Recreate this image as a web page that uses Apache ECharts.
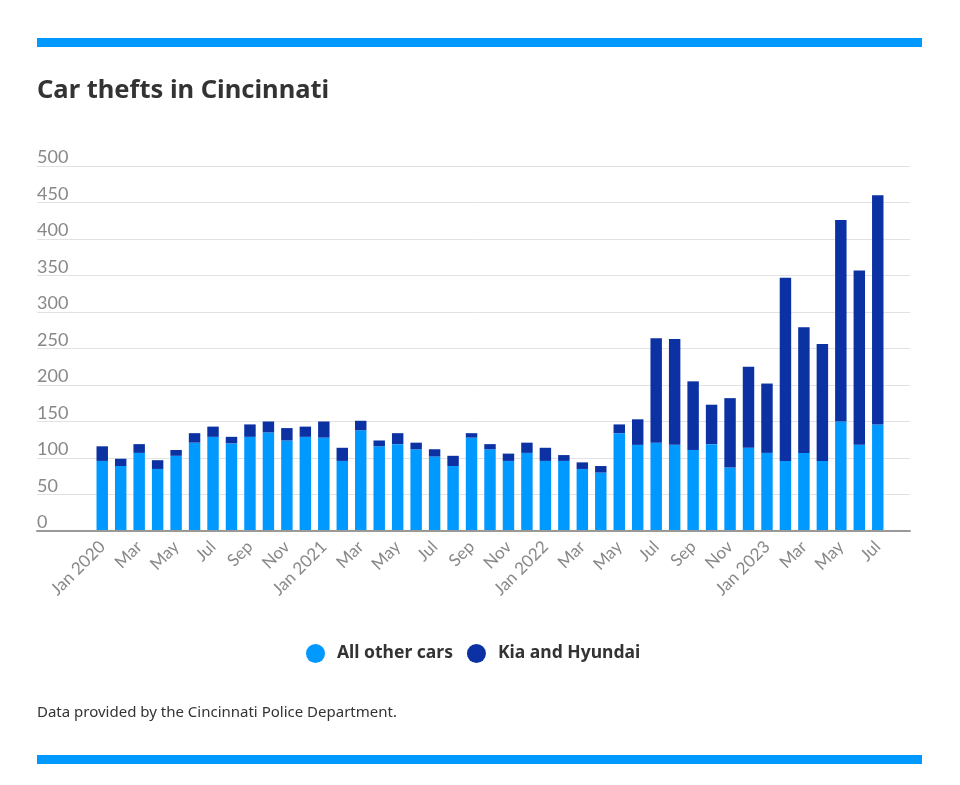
<!DOCTYPE html>
<html>
<head>
<meta charset="utf-8">
<script src="https://cdn.jsdelivr.net/npm/echarts@6/dist/echarts.min.js"></script>
<style>html,body{margin:0;padding:0;background:#fff}#c{width:960px;height:785px}</style>
</head>
<body>
<div id="c"></div>
<script>
const months = ['Jan 2020','Feb','Mar','Apr','May','Jun','Jul','Aug','Sep','Oct','Nov','Dec',
  'Jan 2021','Feb','Mar','Apr','May','Jun','Jul','Aug','Sep','Oct','Nov','Dec',
  'Jan 2022','Feb','Mar','Apr','May','Jun','Jul','Aug','Sep','Oct','Nov','Dec',
  'Jan 2023','Feb','Mar','Apr','May','Jun','Jul'];
const otherCars = [96,89,107,85,103,121,129,120,129,135,124,129,
  128,96,138,116,119,112,102,89,128,112,96,107,
  96,96,85,80,134,118,121,118,111,119,87,114,
  107,96,107,96,150,118,146];
const kiaHyundai = [20,10,12,12,8,13,14,9,17,15,17,14,
  22,18,13,8,15,9,10,14,6,7,10,14,
  18,8,9,9,12,35,143,145,94,54,95,111,
  95,251,172,160,276,239,314];
const yMin = 0, yMax = 500, yStep = 50;

const LIGHT = '#0099ff', DARK = '#0b31a3';
const chart = echarts.init(document.getElementById('c'));
chart.setOption({
  animation: false,
  title: [
    {text: 'Car thefts in Cincinnati', left: 37, top: 78, padding: 0,
     textStyle: {fontFamily: 'Noto Sans', fontWeight: 'bold', fontSize: 25.5, color: '#333'}},
    {text: 'Data provided by the Cincinnati Police Department.', left: 37, top: 705, padding: 0,
     textStyle: {fontFamily: 'Noto Sans', fontWeight: 'normal', fontSize: 15, color: '#333'}}
  ],
  legend: {
    data: ['All other cars', 'Kia and Hyundai'],
    left: 301, top: 639, icon: 'circle', itemWidth: 19, itemHeight: 19, itemGap: 14,
    textStyle: {fontFamily: 'Noto Sans', fontWeight: 'bold', fontSize: 17.5, color: '#333', padding: [0,0,0,7]}
  },
  grid: [
    {left: 37, right: 50, top: 166, bottom: 254},
    {left: 93, right: 73, top: 166, bottom: 254}
  ],
  xAxis: [
    {type: 'value', gridIndex: 0, min: 0, max: 1, axisLabel: {show: false}, axisTick: {show: false},
     splitLine: {show: false}, axisLine: {show: true, lineStyle: {color: '#999', width: 2}}, z: 5},
    {type: 'category', gridIndex: 1, data: months,
     axisLine: {show: false}, axisTick: {show: false},
     axisLabel: {interval: 1, rotate: 45, margin: 13, color: '#888', fontSize: 17, fontFamily: 'Lato'}}
  ],
  yAxis: [
    {type: 'value', gridIndex: 0, min: yMin, max: yMax, interval: yStep,
     axisLine: {show: false}, axisTick: {show: false},
     splitLine: {lineStyle: {color: '#e2e2e2', width: 1}},
     axisLabel: {inside: true, margin: 0, align: 'left', verticalAlign: 'bottom', padding: 0, lineHeight: 17,
       color: '#888', fontSize: 18, fontFamily: 'Lato'}},
    {type: 'value', gridIndex: 1, min: yMin, max: yMax, interval: yStep, show: false,
     splitLine: {show: false}}
  ],
  series: [
    {name: 'All other cars', type: 'bar', stack: 'total', xAxisIndex: 1, yAxisIndex: 1,
     barWidth: '62%', itemStyle: {color: LIGHT}, data: otherCars},
    {name: 'Kia and Hyundai', type: 'bar', stack: 'total', xAxisIndex: 1, yAxisIndex: 1,
     barWidth: '62%', itemStyle: {color: DARK}, data: kiaHyundai}
  ],
  graphic: [
    {type: 'rect', left: 37, top: 38, shape: {width: 885, height: 9}, style: {fill: LIGHT}},
    {type: 'rect', left: 37, top: 755, shape: {width: 885, height: 9}, style: {fill: LIGHT}}
  ]
});
</script>
</body>
</html>
